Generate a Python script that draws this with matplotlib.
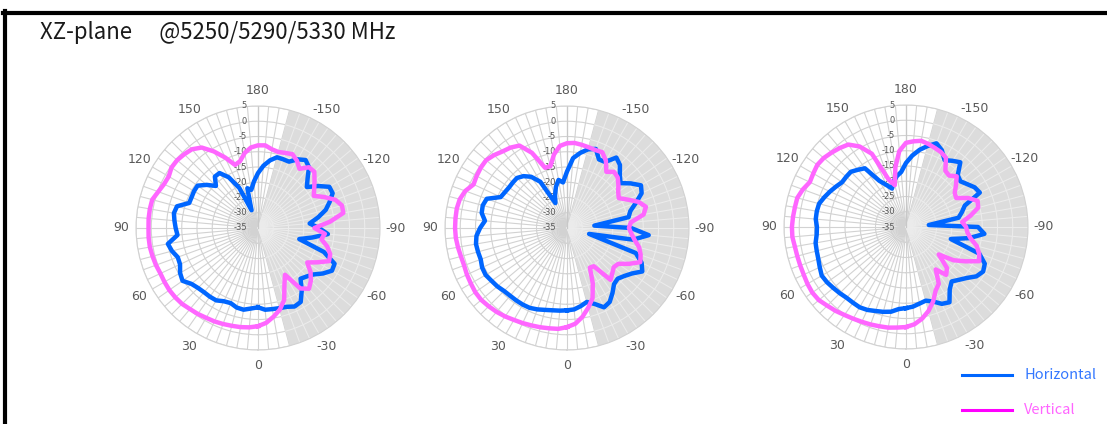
import numpy as np
import matplotlib.pyplot as plt
from matplotlib.lines import Line2D

# angle 0 at bottom, clockwise on screen; 185..355 are shown as -175..-5
angles = list(range(0, 360, 5))
tick_labels = [str(a) if a <= 180 else str(a - 360) for a in angles]
r_labels = [5, 0, -5, -10, -15, -20, -25, -30, -35]

# 5250 MHz
horiz_5250 = [-9.0, -8.5, -7.8, -8.0, -8.8, -8.5, -7.6, -7.5, -7.5, -7.2,
              -6.5, -4.8, -5.5, -6.8, -7.0, -5.8, -5.0, -8.5, -8.0, -7.5,
              -7.0, -7.5, -11.0, -11.0, -10.8, -10.8, -13.0, -15.5, -13.0, -13.0,
              -15.8, -20.5, -28.8, -21.5, -22.3, -19.7, -17.0,
              -14.5, -12.5, -11.0, -11.0, -11.0, -9.0, -7.8, -9.0, -12.0, -14.1,
              -11.0, -8.0, -8.0, -10.0, -12.0, -15.0, -18.0, -15.0, -12.0, -17.0,
              -21.0, -12.0, -7.3, -7.0, -9.0, -11.3, -12.5, -13.3, -10.0, -7.0,
              -6.6, -7.5, -7.8, -8.0, -8.1]
vert_5250 = [-2.8, -2.3, -2.0, -1.8, -1.5, -1.2, -1.0, -0.6, -0.3, 0.2,
             0.4, 0.5, 0.4, 0.3, 0.6, 0.8, 1.0, 1.0, 0.9, 1.0,
             1.0, 0.9, -0.2, -1.0, -1.2, -0.4, -0.4, -0.8, -1.3, -2.8,
             -6.0, -9.5, -13.0, -12.3, -10.0, -8.5, -7.9,
             -7.8, -8.8, -9.2, -8.8, -8.3, -9.5, -11.3, -9.0, -8.9, -10.8,
             -12.5, -13.9, -11.0, -8.0, -6.5, -6.6, -11.3, -16.5, -13.0, -13.9,
             -11.5, -9.8, -9.3, -12.5, -15.3, -12.5, -10.5, -9.0, -10.8, -17.3,
             -14.5, -9.9, -7.3, -5.5, -3.8]

# 5290 MHz
horiz_5290 = [-8.0, -7.8, -7.6, -7.2, -6.6, -6.1, -6.0, -6.0, -6.0, -5.8,
              -5.2, -4.8, -4.2, -4.3, -4.9, -4.8, -4.7, -5.2, -6.5, -8.0,
              -6.6, -6.4, -7.0, -11.0, -11.5, -11.8, -11.8, -11.8, -12.8, -14.5,
              -17.5, -26.0, -23.5, -21.0, -19.0, -20.0, -16.5,
              -12.0, -10.0, -8.3, -7.4, -10.2, -10.0, -6.8, -8.0, -10.5, -12.1,
              -9.5, -7.0, -8.0, -11.0, -13.5, -14.5, -26.0, -14.0, -8.1, -13.0,
              -27.5, -11.0, -8.0, -6.5, -9.0, -10.5, -11.5, -11.0, -9.0, -7.0,
              -6.3, -8.5, -9.9, -9.0, -8.2]
vert_5290 = [-2.5, -1.8, -1.6, -1.3, -1.0, -0.6, -0.2, 0.4, 0.9, 1.3,
             1.7, 1.7, 1.4, 1.2, 0.9, 1.0, 1.3, 1.6, 1.7, 1.7,
             1.7, 1.4, 0.5, -1.2, -0.8, -0.5, -0.4, -1.2, -2.2, -2.8,
             -3.8, -7.8, -14.0, -14.0, -10.5, -8.0, -7.2,
             -7.0, -7.3, -7.6, -7.8, -7.6, -9.5, -12.5, -11.0, -11.5, -13.0,
             -14.5, -15.4, -13.0, -10.0, -8.2, -9.5, -14.0, -14.7, -13.8, -12.5,
             -10.5, -9.3, -8.5, -11.5, -14.5, -15.0, -14.0, -12.8, -19.7, -20.0,
             -15.0, -10.5, -8.0, -5.5, -3.5]

# 5330 MHz
horiz_5330 = [-8.4, -8.0, -6.8, -6.2, -5.7, -5.0, -4.6, -4.7, -4.7, -4.3,
              -3.9, -3.4, -3.1, -3.8, -4.4, -4.7, -4.9, -5.6, -5.8, -5.3,
              -5.3, -5.5, -6.5, -7.5, -8.5, -9.4, -9.4, -9.4, -10.5, -11.5,
              -17.5, -19.8, -21.6, -19.5, -18.0, -16.9, -14.0,
              -11.5, -9.3, -7.5, -5.8, -7.2, -9.7, -8.5, -7.3, -11.0, -11.7,
              -10.5, -9.0, -8.3, -14.5, -16.0, -17.5, -27.5, -11.4, -9.2, -14.0,
              -19.8, -9.4, -6.5, -5.8, -6.8, -9.0, -10.5, -11.7, -10.0, -6.5,
              -7.2, -9.0, -10.0, -9.5, -8.8]
vert_5330 = [-2.2, -1.9, -1.5, -1.3, -1.0, -0.7, -0.3, 0.2, 0.9, 1.5,
             2.3, 2.5, 2.3, 2.0, 1.9, 1.9, 2.0, 2.4, 2.4, 2.2,
             2.0, 1.9, 1.0, -0.2, 0.1, 0.5, 0.2, -0.5, -1.2, -2.0,
             -4.5, -8.5, -18.5, -20.8, -15.0, -10.0, -7.4,
             -6.8, -6.3, -6.8, -7.4, -7.9, -8.8, -12.5, -13.0, -11.5, -13.6,
             -15.5, -16.0, -12.5, -10.0, -10.5, -13.5, -16.5, -15.3, -14.8, -13.5,
             -11.0, -9.5, -8.5, -12.5, -16.0, -21.0, -16.0, -14.5, -18.0, -13.5,
             -12.0, -9.0, -6.5, -4.5, -3.0]

W, H = 1107, 424
fig = plt.figure(figsize=(W / 100, H / 100), dpi=100)
fig.patch.set_facecolor('white')

grey_txt = '#595959'
blue = '#0066ff'
pink = '#ff66ff'


def polar_chart(cx, cy, horiz, vert):
    R = 122
    ax = fig.add_axes([(cx - R) / W, 1 - (cy + R) / H, 2 * R / W, 2 * R / H],
                      projection='polar')
    ax.set_theta_zero_location('S')
    ax.set_theta_direction(-1)
    ax.set_ylim(-35, 5)
    ax.set_xticks(np.radians(angles))
    ax.set_xticklabels([t if int(t) % 30 == 0 else '' for t in tick_labels],
                       fontsize=9, color=grey_txt)
    ax.tick_params(axis='x', pad=0.5)
    ax.set_yticks(np.arange(-30, 6, 5))
    ax.set_yticklabels([])
    ax.grid(True, color='#d2d2d2', linewidth=0.8)
    ax.spines['polar'].set_color('#d2d2d2')
    ax.spines['polar'].set_linewidth(0.8)

    # shaded sector -165 .. -15, drawn over the grid, with lighter grid on it
    ax.bar(np.radians(270), 40, width=np.radians(150), bottom=-35,
           color='#dcdcdc', zorder=1.8, linewidth=0)
    sector = [a for a in angles if 195 < a < 345]
    for a in sector:
        ax.plot([np.radians(a)] * 2, [-35, 5], color='#ececec',
                linewidth=0.75, zorder=1.9)
    arc = np.radians(np.linspace(195, 345, 100))
    for rr in range(-30, 5, 5):
        ax.plot(arc, [rr] * len(arc), color='#ececec', linewidth=0.75,
                zorder=1.9)
    # value axis along 180
    ax.plot([np.pi, np.pi], [-35, 5], color='#c8c8c8', linewidth=0.9,
            zorder=2)

    for val in r_labels:
        ax.annotate(str(val), xy=(np.pi, val), xytext=(-8, 0),
                    textcoords='offset points', ha='right', va='center',
                    fontsize=6, color=grey_txt, zorder=3)
    th = np.radians(angles + [angles[0]])
    ax.plot(th, horiz + [horiz[0]], color=blue, linewidth=3.2, zorder=4)
    ax.plot(th, vert + [vert[0]], color=pink, linewidth=3.2, zorder=5)
    return ax


polar_chart(258, 228, horiz_5250, vert_5250)
polar_chart(567, 228, horiz_5290, vert_5290)
polar_chart(906, 227, horiz_5330, vert_5330)

# frame lines
fig.add_artist(Line2D([3 / W, 1.0], [1 - 13 / H, 1 - 13 / H], color='black',
                      linewidth=3, transform=fig.transFigure))
fig.add_artist(Line2D([5 / W, 5 / W], [1 - 11 / H, 0.0], color='black',
                      linewidth=3, transform=fig.transFigure))

fig.text(40 / W, 1 - 32 / H, 'XZ-plane\u3000 @5250/5290/5330 MHz',
         fontsize=16, color='#1a1a1a', va='center', ha='left',
         family=['Noto Sans CJK JP', 'DejaVu Sans'])

# legend
fig.add_artist(Line2D([962 / W, 1012 / W], [1 - 375 / H, 1 - 375 / H],
                      color=blue, linewidth=2.2, transform=fig.transFigure))
fig.text(1025 / W, 1 - 375 / H, 'Horizontal', fontsize=10.5, color='#3377ff',
         va='center', ha='left', family=['Noto Sans CJK JP', 'DejaVu Sans'])
fig.add_artist(Line2D([962 / W, 1012 / W], [1 - 410 / H, 1 - 410 / H],
                      color='#ff00ff', linewidth=2.2, transform=fig.transFigure))
fig.text(1024 / W, 1 - 410 / H, 'Vertical', fontsize=10.5, color='#ff66ff',
         va='center', ha='left', family=['Noto Sans CJK JP', 'DejaVu Sans'])

fig.savefig('out.png', dpi=100)
